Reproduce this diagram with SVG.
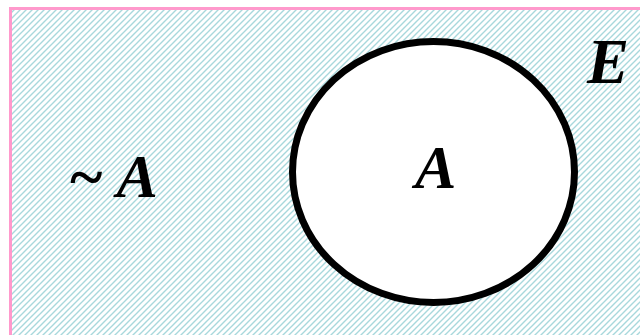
<svg xmlns="http://www.w3.org/2000/svg" width="640" height="335" viewBox="0 0 640 335">
<style>
.lbl{font-family:"Liberation Serif","Times New Roman",serif;font-weight:bold;font-style:italic;fill:#000;}
</style>
<defs>
<pattern id="hatch" patternUnits="userSpaceOnUse" width="6" height="6">
<path d="M0,6 L6,0 M-1,1 L1,-1 M5,7 L7,5" stroke="#a8d8dc" stroke-width="1.4"/>
</pattern>
</defs>
<rect width="640" height="335" fill="#fff"/>
<g id="universe">
<rect x="10.5" y="8.5" width="640" height="340" fill="url(#hatch)" stroke="#ff99cc" stroke-width="3"/>
<text class="lbl" x="587" y="83" font-size="63">E</text>
</g>
<g id="complement">
<text class="lbl" x="68" y="197" font-size="62">~ A</text>
</g>
<g id="setA">
<ellipse cx="433.5" cy="172" rx="141" ry="130.5" fill="#fff" stroke="#000" stroke-width="7"/>
<text class="lbl" x="415" y="188" font-size="62">A</text>
</g>
</svg>
